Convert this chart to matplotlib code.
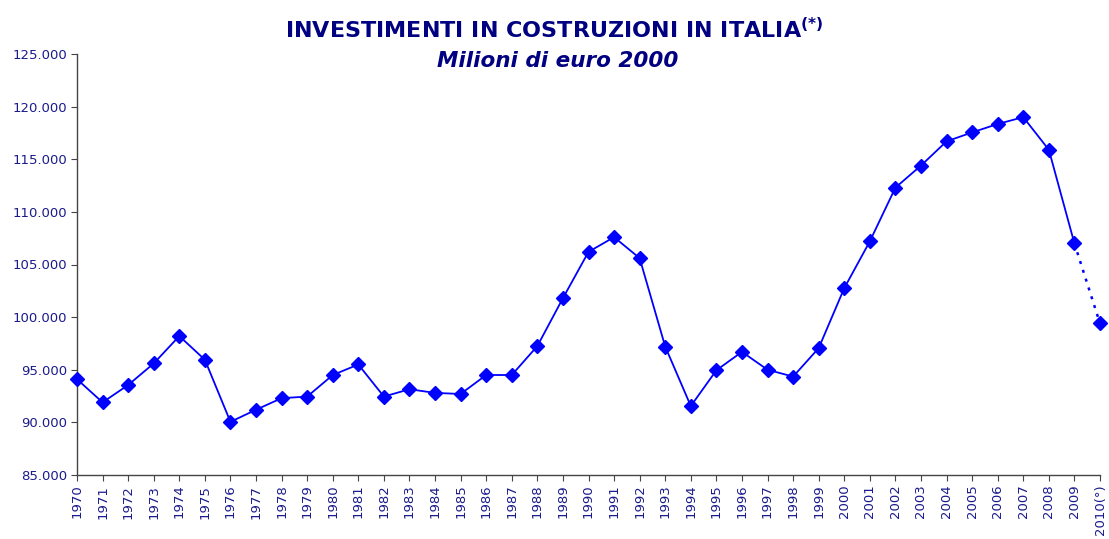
import matplotlib
matplotlib.use("Agg")
import matplotlib.pyplot as plt

years = list(range(1970, 2011))
labels = [str(y) for y in range(1970, 2010)] + ["2010(°)"]
values = [94.1, 91.9, 93.55, 95.6, 98.2, 95.95, 90.05, 91.2, 92.3, 92.45,
          94.5, 95.5, 92.45, 93.15, 92.8, 92.7, 94.5, 94.5, 97.25, 101.8,
          106.2, 107.6, 105.6, 97.2, 91.55, 94.95, 96.7, 95.0, 94.35, 97.05,
          102.75, 107.2, 112.3, 114.4, 116.7, 117.55, 118.35, 119.0, 115.9, 107.0,
          99.4]
values = [v * 1000 for v in values]

blue = "#0000FF"
navy = "#1A1A8C"
plt.rcParams['font.family'] = ['DejaVu Sans']

fig = plt.figure(figsize=(11.09, 5.39), dpi=100)
ax = fig.add_axes([77/1109, 1 - 475/539, (1100 - 77)/1109, (475 - 54)/539])

x = list(range(len(years)))
ax.plot(x[:-1], values[:-1], color=blue, lw=1.3, marker='D', ms=7,
        markerfacecolor=blue, markeredgecolor=blue, clip_on=False, zorder=3)
ax.plot(x[-2:], values[-2:], color=blue, lw=1.8, ls=(0, (1.2, 2.5)), zorder=2, clip_on=False)
ax.plot(x[-1:], values[-1:], color=blue, marker='D', ms=7, ls='none', clip_on=False, zorder=3)

ax.set_xlim(0, len(years) - 1)
ax.set_ylim(85000, 125000)
ax.set_yticks(range(85000, 125001, 5000))
ax.set_yticklabels([f"{v//1000}.000" for v in range(85000, 125001, 5000)])
ax.set_xticks(x)
ax.set_xticklabels(labels, rotation=90)

for s in ['top', 'right']:
    ax.spines[s].set_visible(False)
for s in ['left', 'bottom']:
    ax.spines[s].set_color('#444444')
    ax.spines[s].set_linewidth(1.0)
ax.tick_params(axis='both', colors='#444444', labelcolor=navy, labelsize=9.5,
               direction='out', length=4)
ax.tick_params(axis='y', pad=3)
ax.tick_params(axis='x', pad=3)

fig.text(0.5, 1 - 30/539, r"INVESTIMENTI IN COSTRUZIONI IN ITALIA$^{\mathbf{(*)}}$",
         ha='center', va='center', fontsize=16, fontweight='bold', color='#000080')
fig.text(0.503, 1 - 61/539, "Milioni di euro 2000", ha='center', va='center',
         fontsize=15.5, fontweight='bold', fontstyle='italic', color='#000080')

fig.savefig("out.png", dpi=100)
